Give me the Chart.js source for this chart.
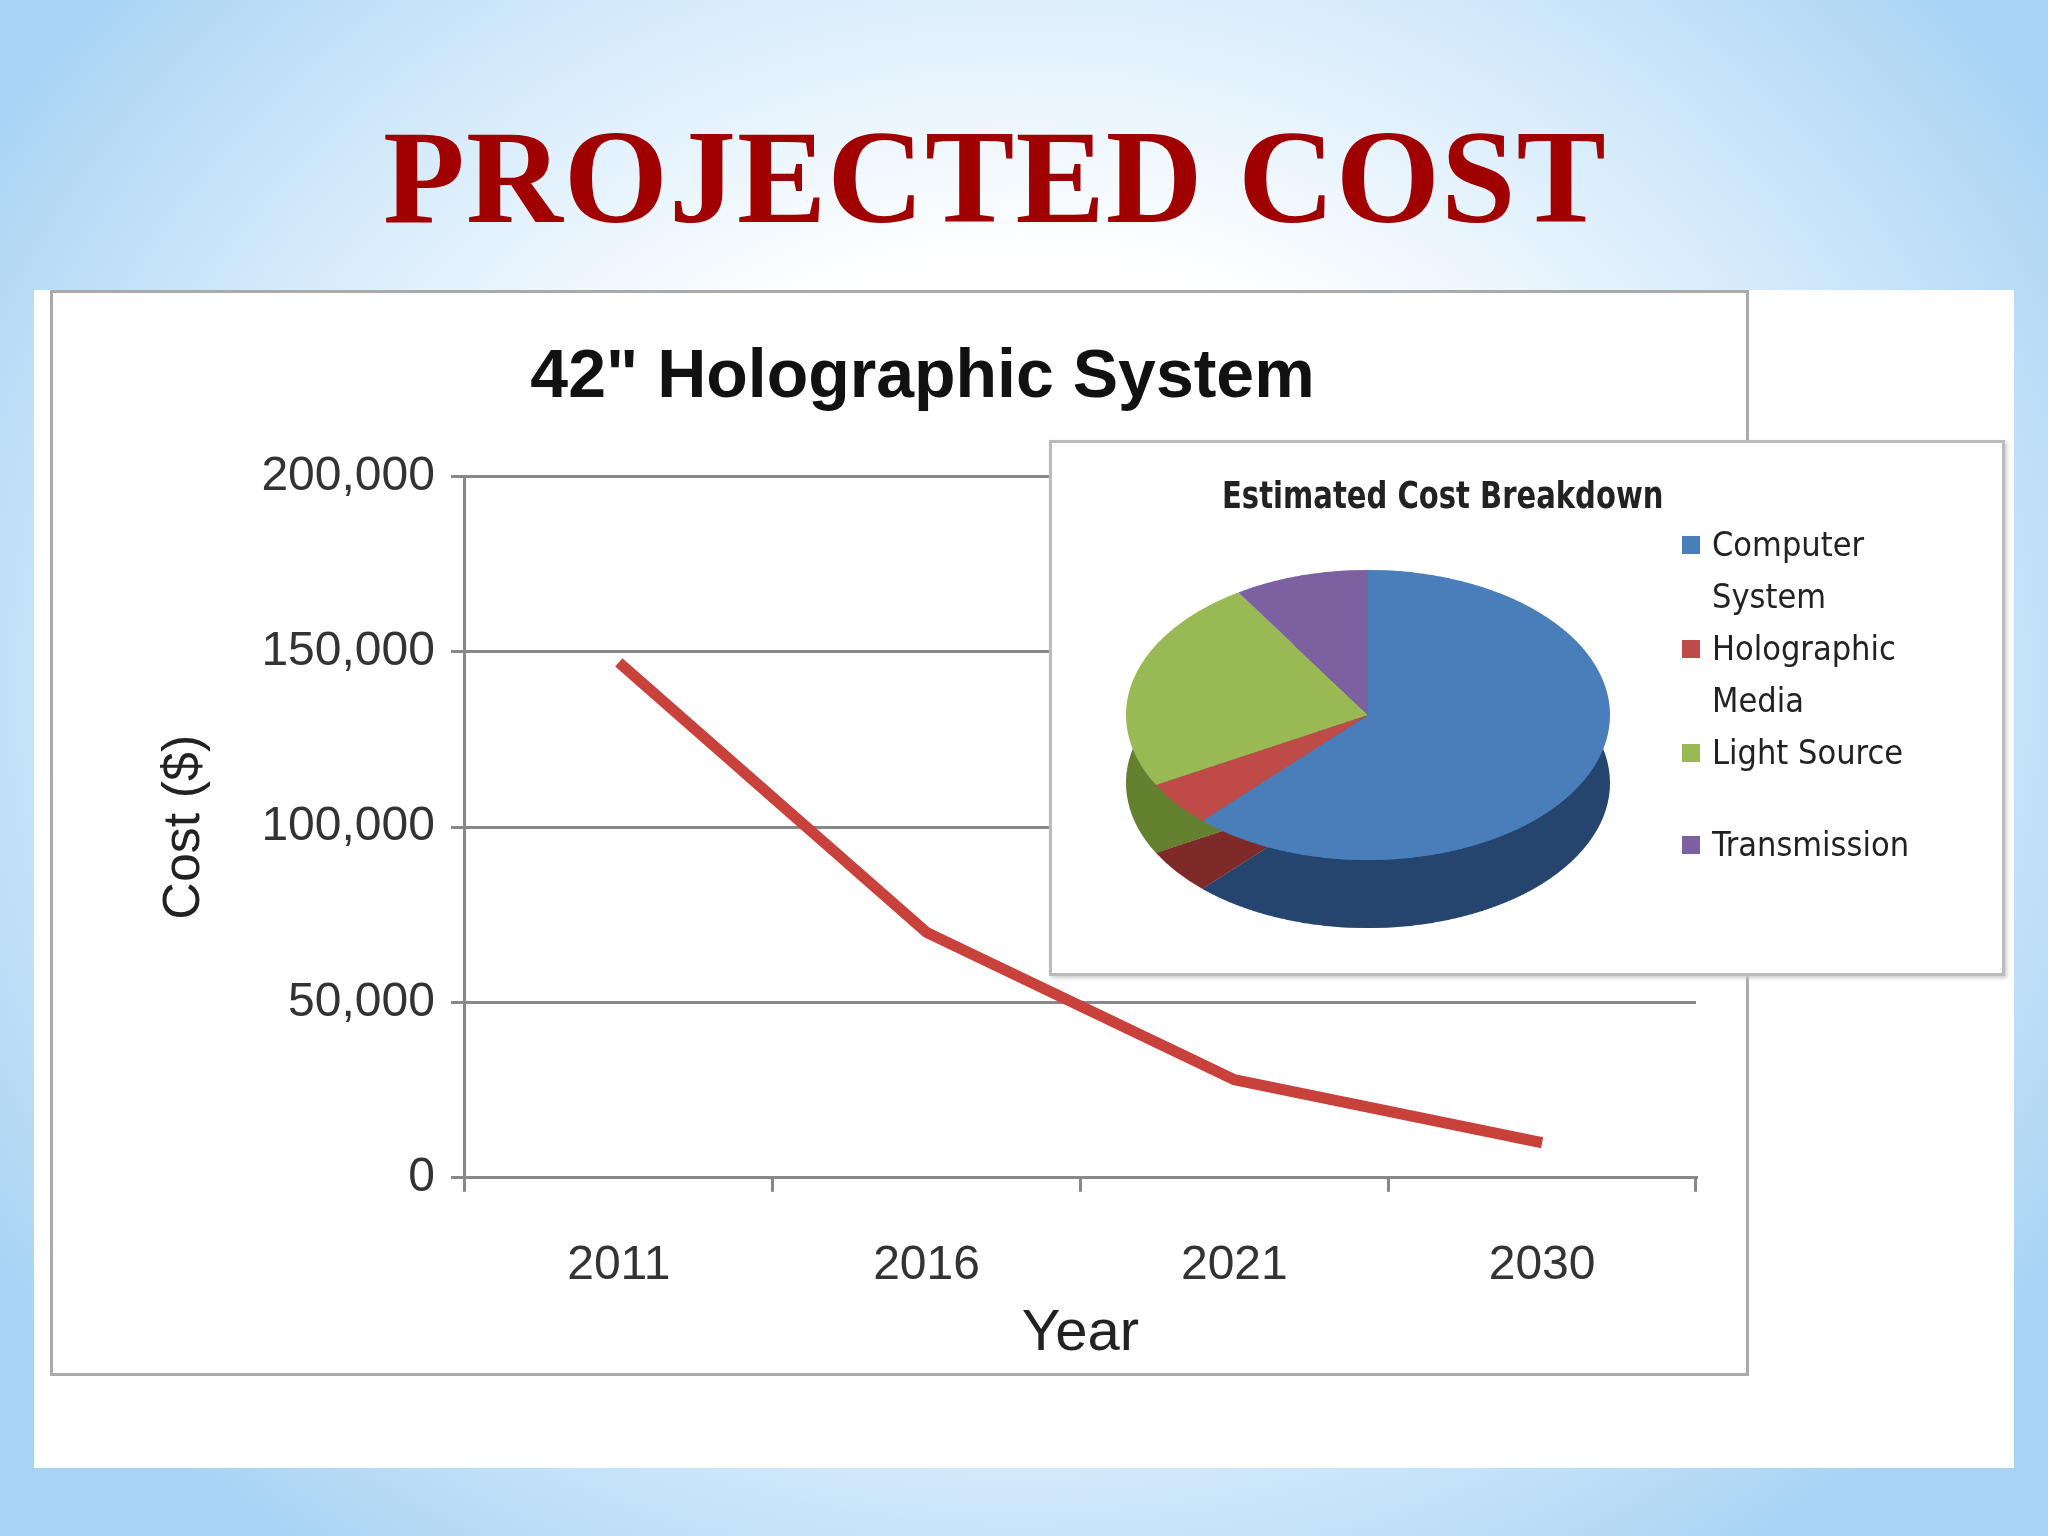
<!DOCTYPE html>
<html><head><meta charset="utf-8">
<script src="https://cdn.jsdelivr.net/npm/chart.js@4"></script>
<style>
body{margin:0;width:2048px;height:1536px;overflow:hidden;position:relative;
background:radial-gradient(ellipse 60% 70% at 50% 45%,#ffffff 40%,#d6ebfb 70%,#a8d3f4 100%);}
#title{position:absolute;left:0;width:1990px;top:100px;text-align:center;font-family:"Liberation Serif",serif;font-weight:bold;font-size:134px;color:#a00000;letter-spacing:1px}
#panel{position:absolute;left:34px;top:290px;width:1980px;height:1178px;background:#fff}
#box{position:absolute;left:50px;top:290px;width:1693px;height:1080px;border:3px solid #aaa;background:#fff}
#inset{position:absolute;left:1049px;top:440px;width:950px;height:530px;border:3px solid #bbb;background:#fff;box-shadow:2px 2px 4px #ccc;overflow:hidden}
#ititle{position:absolute;left:170px;top:30px;font-family:"Liberation Sans Narrow","DejaVu Sans Condensed",sans-serif;font-weight:bold;font-size:38px;color:#222;transform:scaleX(0.85);transform-origin:left}
.pw{position:absolute;left:36px;width:560px;height:560px;transform:scaleY(0.6);transform-origin:top}
#legend{position:absolute;left:630px;top:75px;font-family:"Liberation Sans Narrow","DejaVu Sans Condensed",sans-serif;font-size:34px;color:#222;line-height:52px}
#legend div{position:relative;padding-left:30px;width:220px}
#legend span{position:absolute;left:0;top:18px;width:18px;height:18px}
</style></head><body>
<div id="title">PROJECTED COST</div>
<div id="panel"></div>
<div id="box"><canvas id="line" width="1693" height="1080"></canvas></div>
<div id="inset">
  <div id="ititle">Estimated Cost Breakdown</div>
  <div class="pw" style="top:172px"><canvas id="pieSide" width="560" height="560"></canvas></div>
  <div class="pw" style="top:104px"><canvas id="pie" width="560" height="560"></canvas></div>
  <div id="legend"></div>
</div>
<script>
const years = ['2011', '2016', '2021', '2030'];
const costs = [147000, 70000, 28000, 10000];
const yTicks = [0, 50000, 100000, 150000, 200000];
const parts = ['Computer System', 'Holographic Media', 'Light Source', 'Transmission'];
const partShares = [62, 5, 24, 9];
const partColors = ['#4a7ebb', '#be4b48', '#98b954', '#7d60a0'];
const sideColors = ['#26456e', '#7e2a28', '#63802f', '#4d3a66'];

new Chart(document.getElementById('line'), {
  type: 'line',
  data: { labels: years, datasets: [{ data: costs, borderColor: '#c8413a', borderWidth: 11, pointRadius: 0, tension: 0 }] },
  options: {
    responsive: false, animation: false,
    layout: { padding: { left: 96, right: 50, top: 10, bottom: 0 } },
    plugins: {
      legend: { display: false },
      title: { display: true, text: '42" Holographic System', color: '#111', font: { family: 'Liberation Sans', size: 68, weight: 'bold' }, padding: { top: 34, bottom: 58 } }
    },
    scales: {
      x: {
        offset: true,
        grid: { offset: true, drawOnChartArea: false, color: '#888', lineWidth: 3, tickLength: 14 },
        border: { color: '#888', width: 3 },
        ticks: { color: '#333', font: { family: 'Liberation Sans', size: 48 }, padding: 45 },
        title: { display: true, text: 'Year', color: '#222', font: { family: 'Liberation Sans', size: 58 }, padding: { top: -40 } }
      },
      y: {
        min: 0, max: 200000,
        afterBuildTicks: s => { s.ticks = yTicks.map(v => ({ value: v })); },
        grid: { color: '#888', lineWidth: 3, tickLength: 14 },
        border: { color: '#888', width: 3 },
        ticks: { color: '#333', font: { family: 'Liberation Sans', size: 48 }, padding: 16, callback: v => v.toLocaleString('en-US') },
        title: { display: true, text: 'Cost ($)', color: '#222', font: { family: 'Liberation Sans', size: 52 }, padding: { bottom: 30 } }
      }
    }
  }
});

const pieOpts = {
  responsive: false, animation: false,
  layout: { padding: 38 },
  plugins: { legend: { display: false }, tooltip: { enabled: false } }
};
new Chart(document.getElementById('pieSide'), {
  type: 'pie',
  data: { labels: parts, datasets: [{ data: partShares, backgroundColor: sideColors, borderWidth: 0 }] },
  options: pieOpts
});
new Chart(document.getElementById('pie'), {
  type: 'pie',
  data: { labels: parts, datasets: [{ data: partShares, backgroundColor: partColors, borderWidth: 0 }] },
  options: pieOpts
});

const lg = document.getElementById('legend');
parts.forEach((p, i) => {
  const d = document.createElement('div');
  d.innerHTML = '<span style="background:' + partColors[i] + '"></span>' + p;
  if (i === 2) d.style.marginBottom = '40px';
  lg.appendChild(d);
});
</script>
</body></html>
